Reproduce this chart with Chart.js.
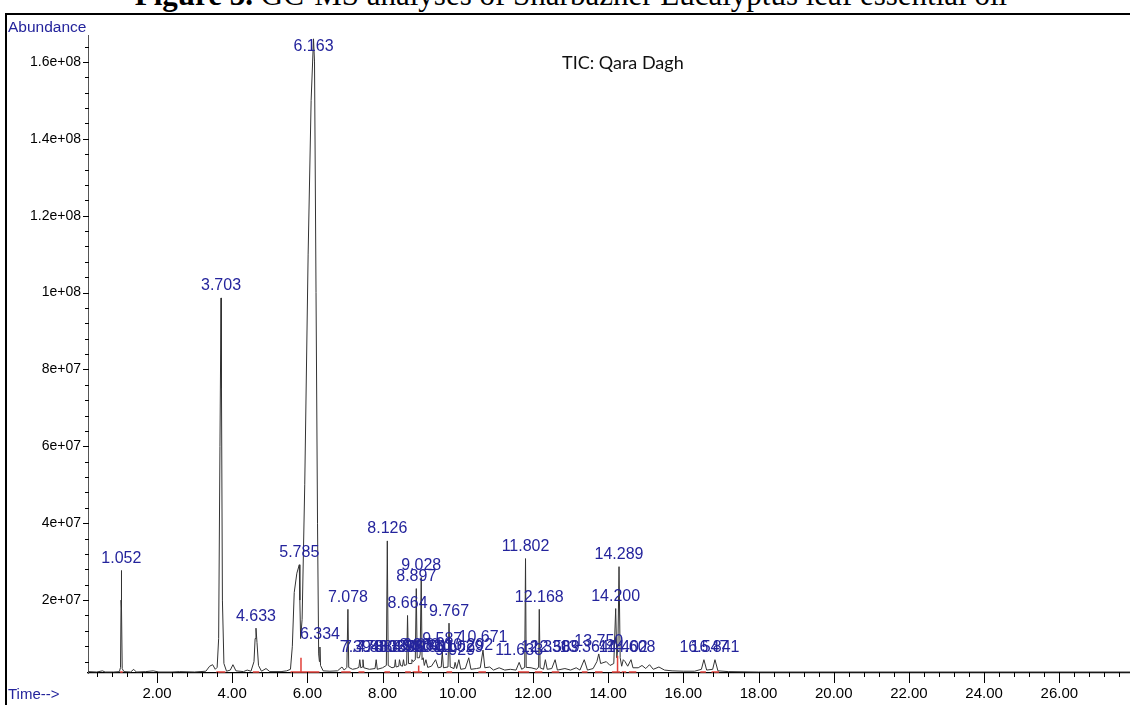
<!DOCTYPE html>
<html>
<head>
<meta charset="utf-8">
<script src="https://cdn.jsdelivr.net/npm/chart.js@4/dist/chart.umd.min.js"></script>
<style>
  body { margin: 0; background: #fff; width: 1130px; height: 705px; overflow: hidden; position: relative;
         font-family: "Liberation Sans", Arial, sans-serif; }
  #title { position: absolute; top: -21px; left: 6px; width: 1130px; text-align: center;
           font: 31px/31px "Liberation Serif", "Times New Roman", serif; color: #000; white-space: nowrap; }
  #frame { position: absolute; left: 5px; top: 13px; width: 1140px; height: 720px;
           border-left: 2px solid #000; border-top: 2px solid #000; }
  #wrap { position: absolute; left: 0; top: 0; width: 1130px; height: 705px; }
  .blue { position: absolute; color: #24249c; font-size: 15px; line-height: 15px; white-space: nowrap; }
  #abund { left: 8px; top: 19px; font-size: 15.5px; }
  #time { left: 8px; top: 686px; }
  #tic { position: absolute; left: 562px; top: 51px; font: 18px Lato, "Open Sans", sans-serif; color: #111; }
</style>
</head>
<body>
<div id="title"><b>Figure 3.</b> GC-MS analyses of Sharbazher Eucalyptus leaf essential oil</div>
<div id="frame"></div>
<div id="wrap"><canvas id="chart" width="1130" height="705"></canvas></div>
<div class="blue" id="abund">Abundance</div>
<div class="blue" id="time">Time--&gt;</div>
<div id="tic">TIC: Qara Dagh</div>
<script>
// ---- data ----
const retentionTimes = [
  0.17, 0.40, 0.55, 0.62, 0.85, 1.00, 1.03, 1.045, 1.052, 1.06, 1.075, 1.12, 1.30, 1.38, 1.45, 1.70, 1.90, 2.05,
  2.40, 2.60, 3.00, 3.30, 3.40, 3.48, 3.55, 3.60, 3.64, 3.675, 3.703, 3.715, 3.74, 3.78, 3.85, 3.95, 4.02, 4.10,
  4.30, 4.40, 4.50, 4.58, 4.61, 4.633, 4.66, 4.70, 4.78, 4.90, 5.00, 5.30, 5.45, 5.55, 5.60, 5.65, 5.72, 5.785,
  5.80, 5.82, 5.86, 5.93, 6.02, 6.10, 6.163, 6.19, 6.23, 6.27, 6.30, 6.32, 6.334, 6.35, 6.42, 6.60, 6.80, 6.92,
  6.98, 7.05, 7.078, 7.10, 7.20, 7.30, 7.37, 7.394, 7.42, 7.46, 7.478, 7.50, 7.65, 7.80, 7.83, 7.86, 8.00, 8.10,
  8.126, 8.15, 8.25, 8.32, 8.339, 8.36, 8.43, 8.45, 8.48, 8.53, 8.556, 8.58, 8.64, 8.664, 8.69, 8.76, 8.78, 8.81,
  8.87, 8.897, 8.92, 8.98, 9.00, 9.028, 9.05, 9.081, 9.11, 9.153, 9.20, 9.30, 9.411, 9.48, 9.56, 9.587, 9.62,
  9.74, 9.767, 9.80, 9.90, 9.929, 9.97, 10.029, 10.08, 10.20, 10.292, 10.35, 10.50, 10.60, 10.671, 10.72, 10.85,
  10.95, 11.10, 11.25, 11.40, 11.55, 11.633, 11.70, 11.78, 11.802, 11.82, 11.95, 12.10, 12.15, 12.168, 12.19,
  12.28, 12.330, 12.38, 12.50, 12.589, 12.65, 12.85, 13.00, 13.15, 13.25, 13.364, 13.45, 13.60, 13.70, 13.750,
  13.80, 13.95, 14.05, 14.15, 14.200, 14.23, 14.26, 14.289, 14.32, 14.36, 14.402, 14.45, 14.52, 14.608, 14.66,
  14.80, 14.90, 15.00, 15.10, 15.20, 15.35, 15.50, 15.70, 16.00, 16.30, 16.48, 16.547, 16.62, 16.78, 16.841,
  16.92, 17.20, 18.00, 22.00, 27.88
];
const abundances = [
  1.4e6, 1.3e6, 1.6e6, 1.3e6, 1.3e6, 1.4e6, 2.5e6, 2.0e7, 2.77e7, 1.8e7, 2.2e6, 1.4e6, 1.3e6, 2.0e6, 1.3e6, 1.4e6, 1.6e6, 1.3e6,
  1.3e6, 1.4e6, 1.3e6, 1.5e6, 2.8e6, 3.2e6, 2.0e6, 2.5e6, 1.0e7, 6.0e7, 9.86e7, 7.5e7, 2.0e7, 3.5e6, 1.5e6, 1.8e6, 3.2e6, 1.6e6,
  1.4e6, 1.8e6, 1.5e6, 4.0e6, 1.0e7, 1.27e7, 9.0e6, 3.0e6, 1.5e6, 2.2e6, 1.4e6, 1.4e6, 1.6e6, 2.0e6, 8.0e6, 2.2e7, 2.7e7, 2.92e7,
  2.0e7, 1.0e7, 1.5e7, 5.0e7, 1.1e8, 1.5e8, 1.66e8, 1.6e8, 1.0e8, 4.0e7, 6.0e6, 4.0e6, 7.8e6, 3.0e6, 1.6e6, 1.5e6, 1.6e6, 2.6e6,
  1.8e6, 2.5e6, 1.76e7, 2.5e6, 2.0e6, 2.2e6, 2.5e6, 4.5e6, 2.4e6, 2.6e6, 4.5e6, 2.4e6, 2.0e6, 2.2e6, 4.5e6, 2.0e6, 2.4e6, 3.0e6,
  3.54e7, 3.0e6, 2.4e6, 2.6e6, 4.5e6, 2.6e6, 2.8e6, 4.5e6, 3.0e6, 2.8e6, 4.5e6, 3.0e6, 3.2e6, 1.6e7, 3.5e6, 3.5e6, 4.5e6, 4.0e6,
  4.5e6, 2.3e7, 5.0e6, 5.0e6, 6.0e6, 2.59e7, 4.5e6, 5.0e6, 3.0e6, 4.5e6, 2.5e6, 2.8e6, 4.5e6, 2.4e6, 2.6e6, 6.5e6, 2.4e6,
  2.6e6, 1.4e7, 2.6e6, 2.2e6, 3.8e6, 2.2e6, 4.5e6, 2.0e6, 2.2e6, 5.0e6, 2.0e6, 2.2e6, 2.4e6, 7.0e6, 2.4e6, 2.6e6,
  1.8e6, 2.4e6, 1.8e6, 2.0e6, 1.8e6, 3.8e6, 2.0e6, 2.5e6, 3.08e7, 2.5e6, 2.4e6, 2.0e6, 2.6e6, 1.76e7, 2.4e6,
  2.0e6, 4.5e6, 2.0e6, 2.2e6, 4.5e6, 1.8e6, 2.2e6, 1.8e6, 2.4e6, 1.8e6, 4.5e6, 1.8e6, 2.2e6, 4.0e6, 6.0e6,
  3.5e6, 4.0e6, 3.0e6, 3.5e6, 1.78e7, 5.0e6, 8.0e6, 2.87e7, 5.0e6, 2.8e6, 4.5e6, 4.0e6, 2.8e6, 4.5e6, 2.4e6,
  2.4e6, 3.0e6, 2.2e6, 3.2e6, 2.0e6, 2.6e6, 1.8e6, 1.6e6, 1.5e6, 1.5e6, 2.0e6, 4.5e6, 1.8e6, 2.0e6, 4.5e6,
  1.6e6, 1.4e6, 1.3e6, 1.3e6, 1.3e6
];

// labelled peaks (retention time, apex abundance)
const peakTimes = [
  1.052, 3.703, 4.633, 5.785, 6.163, 6.334, 7.078, 7.394, 7.478, 7.830, 8.126, 8.339, 8.450, 8.556, 8.664,
  8.780, 8.897, 8.980, 9.028, 9.081, 9.153, 9.411, 9.587, 9.767, 9.929, 10.029, 10.292, 10.671, 11.633,
  11.802, 12.168, 12.330, 12.589, 13.364, 13.750, 14.200, 14.289, 14.402, 14.608, 16.547, 16.841
];
const peakHeights = [
  2.77e7, 9.86e7, 1.27e7, 2.92e7, 1.66e8, 7.8e6, 1.76e7, 4.5e6, 4.5e6, 4.5e6, 3.54e7, 4.5e6, 4.5e6, 4.5e6, 1.6e7,
  4.5e6, 2.3e7, 5.0e6, 2.59e7, 5.0e6, 4.5e6, 4.5e6, 6.5e6, 1.4e7, 3.8e6, 4.5e6, 5.0e6, 7.0e6, 3.8e6,
  3.08e7, 1.76e7, 4.5e6, 4.5e6, 4.5e6, 6.0e6, 1.78e7, 2.87e7, 4.5e6, 4.5e6, 4.5e6, 4.5e6
];

// integration baselines (red) and split markers
const integStarts = [1.02, 3.58, 4.55, 5.55, 6.90, 7.36, 8.05, 8.60, 8.80, 9.70, 10.55, 11.60, 12.05, 12.50, 13.30, 13.65, 14.10, 14.36, 14.55, 16.45, 16.75];
const integEnds   = [1.09, 3.82, 4.72, 6.32, 7.15, 7.52, 8.20, 8.75, 9.05, 9.85, 10.75, 11.90, 12.25, 12.70, 13.45, 13.85, 14.32, 14.48, 14.75, 16.60, 16.95];
const markerTimes   = [5.83, 8.96, 14.25];
const markerHeights = [5.0e6, 3.0e6, 5.5e6];
const BASELINE = 1.3e6;

const xTickValues = [2, 4, 6, 8, 10, 12, 14, 16, 18, 20, 22, 24, 26];
const yTickValues = [2e7, 4e7, 6e7, 8e7, 1e8, 1.2e8, 1.4e8, 1.6e8];
const yTickLabels = ['2e+07', '4e+07', '6e+07', '8e+07', '1e+08', '1.2e+08', '1.4e+08', '1.6e+08'];

const X_MIN = 0.165, X_MAX = 27.88;
const Y_MIN = 1.04e6, Y_MAX = 1.67e8;

// ---- build datasets ----
const trace = retentionTimes.map((t, i) => ({ x: t, y: abundances[i] }));
const redMarks = [];
integStarts.forEach((s, i) => {
  redMarks.push({ x: s, y: BASELINE }, { x: integEnds[i], y: BASELINE }, { x: integEnds[i], y: null });
});
markerTimes.forEach((t, i) => {
  redMarks.push({ x: t, y: BASELINE }, { x: t, y: markerHeights[i] }, { x: t, y: null });
});

const BLUE = '#24249c';

const axisTicks = {
  id: 'axisTicks',
  afterDraw(chart) {
    const { ctx, chartArea, scales: { x, y } } = chart;
    ctx.save();
    ctx.strokeStyle = '#000';
    ctx.lineWidth = 1;
    ctx.beginPath();
    // x minor / major ticks
    for (let v = 0.4; v < X_MAX; v += 0.4) {
      const px = Math.round(x.getPixelForValue(v)) + 0.5;
      const major = Math.abs(v / 2 - Math.round(v / 2)) < 1e-6;
      ctx.moveTo(px, chartArea.bottom - 1);
      ctx.lineTo(px, chartArea.bottom + (major ? 10 : 4));
    }
    // y minor / major ticks
    for (let v = 4e6; v < Y_MAX; v += 4e6) {
      const py = Math.round(y.getPixelForValue(v)) + 0.5;
      const major = Math.abs(v / 2e7 - Math.round(v / 2e7)) < 1e-6;
      ctx.moveTo(chartArea.left - (major ? 5 : 3), py);
      ctx.lineTo(chartArea.left + 1, py);
    }
    ctx.stroke();
    ctx.restore();
  }
};

const peakLabels = {
  id: 'peakLabels',
  afterDatasetsDraw(chart) {
    const { ctx, chartArea, scales: { x, y } } = chart;
    ctx.save();
    ctx.font = '16px "Liberation Sans", Arial, sans-serif';
    ctx.fillStyle = BLUE;
    ctx.textAlign = 'center';
    ctx.textBaseline = 'bottom';
    peakTimes.forEach((t, i) => {
      const px = x.getPixelForValue(t);
      const py = Math.max(y.getPixelForValue(peakHeights[i]) - 4, chartArea.top + 20);
      ctx.fillText(t.toFixed(3), px, py);
    });
    ctx.restore();
  }
};

new Chart(document.getElementById('chart'), {
  type: 'line',
  data: {
    datasets: [
      { data: trace, borderColor: '#333', borderWidth: 1, pointRadius: 0, tension: 0, order: 1 },
      { data: redMarks, borderColor: '#e2403a', borderWidth: 1.5, pointRadius: 0, tension: 0, spanGaps: false, order: 0 }
    ]
  },
  options: {
    responsive: false,
    animation: false,
    devicePixelRatio: 1,
    layout: { padding: { top: 35, left: 0, right: 0, bottom: 0 } },
    plugins: { legend: { display: false }, tooltip: { enabled: false } },
    scales: {
      x: {
        type: 'linear', min: X_MIN, max: X_MAX,
        afterFit(s) { s.height = 32; },
        afterBuildTicks(s) { s.ticks = xTickValues.map(v => ({ value: v })); },
        ticks: {
          callback: v => v.toFixed(2), color: '#000', padding: 12, maxRotation: 0, autoSkip: false,
          font: { family: '"Liberation Sans", Arial, sans-serif', size: 15 }
        },
        grid: { display: false, drawTicks: false },
        border: { display: true, color: '#000', width: 1.3 }
      },
      y: {
        min: Y_MIN, max: Y_MAX,
        afterFit(s) { s.width = 88; },
        afterBuildTicks(s) { s.ticks = yTickValues.map(v => ({ value: v })); },
        ticks: {
          callback: (v, i) => yTickLabels[i], color: '#000', padding: 7,
          font: { family: '"Liberation Sans", Arial, sans-serif', size: 14 }
        },
        grid: { display: false, drawTicks: false },
        border: { display: true, color: '#555', width: 1 }
      }
    }
  },
  plugins: [axisTicks, peakLabels]
});
</script>
</body>
</html>
